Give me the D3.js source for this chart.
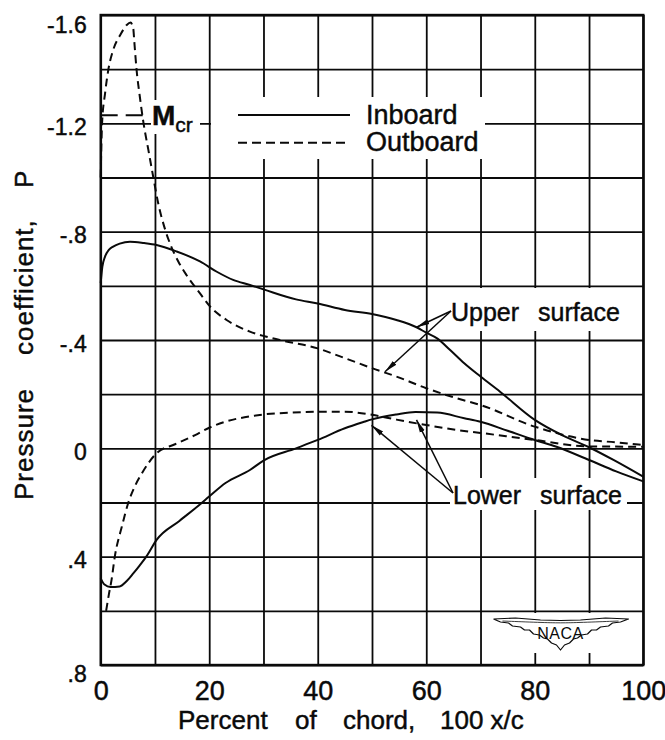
<!DOCTYPE html>
<html>
<head>
<meta charset="utf-8">
<script src="https://cdn.jsdelivr.net/npm/d3@7"></script>
<style>
  html, body { margin: 0; padding: 0; background: #fff; }
  svg { display: block; }
</style>
</head>
<body>
<svg id="chart" width="665" height="740"></svg>
<script>
// Chordwise stations (percent of chord) and pressure coefficients P
const inboardUpperX = [0, 0.3, 0.8, 1.5, 2.3, 3.5, 5.4, 8, 10.3, 14, 18.3, 21.4, 24.4, 27.5, 30, 36, 40, 45, 50, 54.5, 58.2, 60, 62, 64.4, 67, 70, 73.6, 80, 85, 90, 94.5, 100];
const inboardUpperP = [-0.61, -0.67, -0.708, -0.733, -0.745, -0.756, -0.763, -0.758, -0.751, -0.727, -0.69, -0.652, -0.622, -0.603, -0.587, -0.55, -0.535, -0.511, -0.496, -0.474, -0.447, -0.427, -0.406, -0.363, -0.314, -0.265, -0.209, -0.105, -0.049, -0.004, 0.043, 0.105];

const inboardLowerX = [0, 0.7, 1.8, 3.5, 4.8, 6, 7.2, 8.5, 10.3, 14.5, 18, 20.1, 23, 27.5, 30, 36, 40, 45, 48.4, 50, 54.5, 58, 62, 67, 70, 75, 80, 84, 90, 95, 100];
const inboardLowerP = [0.48, 0.503, 0.512, 0.51, 0.49, 0.462, 0.432, 0.397, 0.338, 0.268, 0.212, 0.176, 0.128, 0.08, 0.045, 0.0, -0.031, -0.074, -0.097, -0.107, -0.125, -0.134, -0.132, -0.111, -0.098, -0.065, -0.031, -0.006, 0.043, 0.085, 0.122];

const outboardUpperX = [0, 0.1, 0.25, 0.8, 1.4, 2.3, 3.6, 4.8, 5.5, 6.0, 6.2, 6.6, 7.2, 7.9, 8.8, 9.7, 10.6, 11.9, 13, 14.3, 15.8, 18.3, 20.1, 23.2, 27.5, 30, 33, 40, 45, 50, 54.5, 60, 65.6, 70, 80, 90, 95, 100];
const outboardUpperP = [-1.0, -1.1, -1.2, -1.31, -1.397, -1.471, -1.526, -1.563, -1.572, -1.55, -1.5, -1.4, -1.3, -1.2, -1.1, -1.0, -0.905, -0.806, -0.745, -0.69, -0.64, -0.572, -0.525, -0.474, -0.431, -0.415, -0.4, -0.369, -0.333, -0.296, -0.265, -0.222, -0.185, -0.16, -0.08, -0.031, -0.022, -0.012];

const outboardLowerX = [1.0, 1.5, 2.0, 2.6, 3.9, 5.1, 6.3, 7.6, 10.3, 13.7, 17.4, 20.1, 22.9, 27.5, 30, 35, 40, 45, 50, 54.5, 60, 65.6, 70, 80, 90, 100];
const outboardLowerP = [0.6, 0.54, 0.486, 0.4, 0.289, 0.2, 0.14, 0.092, 0.018, -0.015, -0.049, -0.077, -0.098, -0.118, -0.125, -0.132, -0.135, -0.135, -0.124, -0.106, -0.086, -0.068, -0.057, -0.031, -0.007, -0.006];

// Critical pressure coefficient for the critical Mach number
const mcrValue = -1.23;
const mcrExtent = [0, 8.6];

const yTickValues = [-1.6, -1.2, -0.8, -0.4, 0, 0.4, 0.8];
const yTickLabels = ["-1.6", "-1.2", "-.8", "-.4", "0", ".4", ".8"];
const xTickValues = [0, 20, 40, 60, 80, 100];
const xTickLabels = ["0", "20", "40", "60", "80", "100"];

const legendLabels = ["Inboard", "Outboard"];

// Arrow targets for the surface call-outs, in chord percent / P
const upperTargets = [[58.2, -0.447], [52.4, -0.283]];
const lowerTargets = [[49.9, -0.085], [58.2, -0.105]];

const FONT = "'Liberation Sans', Arial, sans-serif";
const INK = "#0a0a0a";

const svg = d3.select("#chart");

const x = d3.scaleLinear().domain([0, 100]).range([100.7, 643.3]);
const y = d3.scaleLinear().domain([-1.6, 0.8]).range([15, 665]);

const plotL = x(0), plotR = x(100), plotT = y(-1.6), plotB = y(0.8);

// lettering is slightly heavier than the regular face
const ink = sel => sel.attr("fill", INK).attr("stroke", INK).attr("stroke-width", 0.45);

// ---- grid ----
const gridX = d3.range(0, 101, 10);
const gridY = d3.range(13).map(i => -1.6 + 0.2 * i);

const gGridX = svg.append("g")
  .attr("transform", `translate(0,${plotB})`)
  .call(d3.axisBottom(x).tickValues(gridX).tickSize(-(plotB - plotT)).tickFormat(""));
const gGridY = svg.append("g")
  .attr("transform", `translate(${plotL},0)`)
  .call(d3.axisLeft(y).tickValues(gridY).tickSize(-(plotR - plotL)).tickFormat(""));
[gGridX, gGridY].forEach(g => {
  g.select(".domain").remove();
  g.selectAll("line").attr("stroke", INK).attr("stroke-width", 1.8);
});

// ---- knock-out panels behind labels ----
const knock = [
  [211, 97, 274, 62],    // legend
  [151, 100, 49, 34],    // M_cr
  [447, 288, 180, 43],   // Upper surface
  [450, 478, 177, 32],   // Lower surface
  [490, 613, 142, 40]    // emblem
];
svg.append("g").selectAll("rect").data(knock).join("rect")
  .attr("x", d => d[0]).attr("y", d => d[1])
  .attr("width", d => d[2]).attr("height", d => d[3])
  .attr("fill", "#fff");

// ---- frame ----
svg.append("rect")
  .attr("x", plotL).attr("y", plotT)
  .attr("width", plotR - plotL).attr("height", plotB - plotT)
  .attr("fill", "none").attr("stroke", INK).attr("stroke-width", 2.4);

// ---- tick labels ----
const gy = svg.append("g")
  .attr("transform", `translate(${plotL},0)`)
  .call(d3.axisLeft(y).tickValues(yTickValues).tickFormat((d, i) => yTickLabels[i]).tickSize(0).tickPadding(14));
gy.select(".domain").remove();
gy.selectAll("text")
  .attr("font-family", FONT).attr("font-size", 23)
  .attr("dy", d => (d === -1.6 ? "0.78em" : d === 0.8 ? "0.7em" : "0.48em"))
  .call(ink);

const gx = svg.append("g")
  .attr("transform", `translate(0,${plotB})`)
  .call(d3.axisBottom(x).tickValues(xTickValues).tickFormat((d, i) => xTickLabels[i]).tickSize(0).tickPadding(16));
gx.select(".domain").remove();
gx.selectAll("text")
  .attr("font-family", FONT).attr("font-size", 27)
  .call(ink);

// ---- axis titles ----
const xTitle = svg.append("text")
  .attr("y", 729)
  .attr("font-family", FONT).attr("font-size", 26)
  .call(ink);
[["Percent", 178], ["of", 295], ["chord,", 343], ["100 x/c", 440]].forEach(([t, px]) => {
  xTitle.append("tspan").attr("x", px).text(t);
});

const yTitle = svg.append("text")
  .attr("transform", "translate(33,500) rotate(-90)")
  .attr("font-family", FONT).attr("font-size", 26)
  .attr("letter-spacing", 1)
  .call(ink);
[["Pressure", 0], ["coefficient,", 145], ["P", 312]].forEach(([t, px]) => {
  yTitle.append("tspan").attr("x", px).text(t);
});

// ---- curves ----
const zip = (xs, ps) => xs.map((v, i) => [v, ps[i]]);
const line = d3.line()
  .x(d => x(d[0]))
  .y(d => y(d[1]))
  .curve(d3.curveMonotoneX);

const series = [
  { data: zip(inboardUpperX, inboardUpperP), dash: null },
  { data: zip(inboardLowerX, inboardLowerP), dash: null },
  { data: zip(outboardUpperX, outboardUpperP), dash: "8,5" },
  { data: zip(outboardLowerX, outboardLowerP), dash: "8,5" }
];
svg.append("g").selectAll("path").data(series).join("path")
  .attr("d", d => line(d.data))
  .attr("fill", "none")
  .attr("stroke", INK)
  .attr("stroke-width", 2)
  .attr("stroke-dasharray", d => d.dash);

// ---- M_cr marker ----
svg.append("line")
  .attr("x1", x(mcrExtent[0])).attr("x2", x(mcrExtent[1]))
  .attr("y1", y(mcrValue)).attr("y2", y(mcrValue))
  .attr("stroke", INK).attr("stroke-width", 2)
  .attr("stroke-dasharray", "17,8");
const mcr = svg.append("text")
  .attr("x", 152).attr("y", 125)
  .attr("font-family", FONT)
  .call(ink);
mcr.append("tspan").attr("font-size", 28).attr("font-weight", "bold").text("M");
mcr.append("tspan").attr("font-size", 21).attr("dy", 7).text("cr");

// ---- legend ----
const legend = svg.append("g");
legendLabels.forEach((name, i) => {
  const ly = 115 + i * 27.7;
  legend.append("line")
    .attr("x1", 238).attr("x2", 350).attr("y1", ly).attr("y2", ly)
    .attr("stroke", INK).attr("stroke-width", 2)
    .attr("stroke-dasharray", i === 0 ? null : "9,5");
  legend.append("text")
    .attr("x", 366).attr("y", ly + 8.5)
    .attr("font-family", FONT).attr("font-size", 27)
    .call(ink)
    .text(name);
});

// ---- call-outs ----
const defs = svg.append("defs");
defs.append("marker")
  .attr("id", "head")
  .attr("viewBox", "0 -5 13 10")
  .attr("refX", 13).attr("refY", 0)
  .attr("markerWidth", 13).attr("markerHeight", 10)
  .attr("markerUnits", "userSpaceOnUse")
  .attr("orient", "auto")
  .append("path")
  .attr("d", "M0,-2.6L13,0L0,2.6Z")
  .attr("fill", INK);

function callout(label, tx, ty, origin, targets) {
  svg.append("text")
    .attr("x", tx).attr("y", ty)
    .attr("font-family", FONT).attr("font-size", 25)
    .attr("word-spacing", 12)
    .call(ink)
    .text(label);
  targets.forEach(t => {
    svg.append("line")
      .attr("x1", origin[0]).attr("y1", origin[1])
      .attr("x2", x(t[0])).attr("y2", y(t[1]))
      .attr("stroke", INK).attr("stroke-width", 1.5)
      .attr("marker-end", "url(#head)");
  });
}
callout("Upper surface", 451, 321, [451, 311], upperTargets);
callout("Lower surface", 453, 504, [453, 493], lowerTargets);

// ---- NACA emblem ----
const emblem = svg.append("g").attr("transform", "translate(560.5,633)");
const wingOutline = [
  [-67, -14], [-45, -15], [-20, -13], [0, -12.5], [20, -13], [45, -15], [68, -14],
  [60, -11], [52, -10], [48, -7], [40, -6], [36, -3], [31, -3], [27, 1], [21, 2],
  [17, 5], [13, 6], [9, 10], [4, 12], [0, 17], [-4, 12], [-9, 10], [-13, 6],
  [-17, 5], [-21, 2], [-27, 1], [-31, -3], [-36, -3], [-40, -6], [-48, -7],
  [-52, -10], [-60, -11], [-67, -14]
];
emblem.append("path")
  .attr("d", d3.line()(wingOutline))
  .attr("fill", "#fff").attr("stroke", INK).attr("stroke-width", 1.2)
  .attr("stroke-linejoin", "round");
emblem.append("path")
  .attr("d", d3.line().curve(d3.curveBasis)([[-58, -12], [-20, -10.5], [0, -10], [20, -10.5], [58, -12]]))
  .attr("fill", "none").attr("stroke", INK).attr("stroke-width", 0.8);
emblem.append("text")
  .attr("x", 0).attr("y", 6)
  .attr("text-anchor", "middle")
  .attr("font-family", FONT).attr("font-size", 16)
  .attr("letter-spacing", 0.5)
  .attr("fill", INK)
  .text("NACA");
</script>
</body>
</html>
